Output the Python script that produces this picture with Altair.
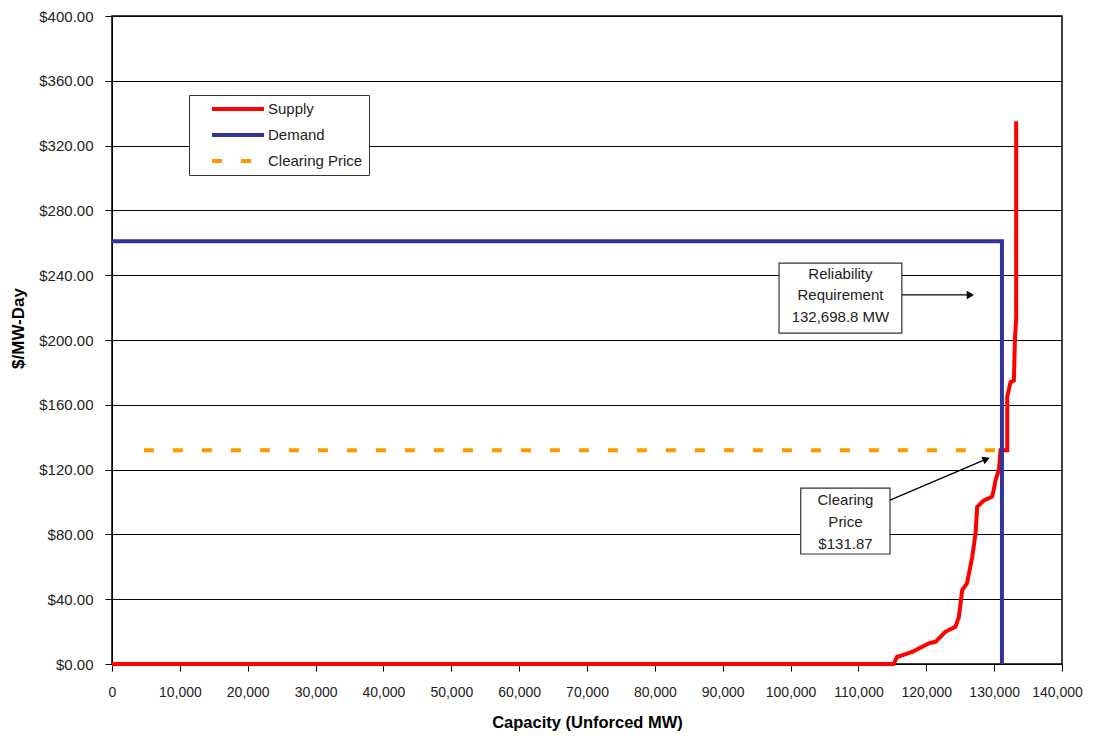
import altair as alt
import pandas as pd

# ---- data ----
supply_mw = [0, 115200, 115700, 116200, 118000, 120400, 121400, 122850, 124300, 124800,
             125300, 126000, 126770, 127260, 127500, 128500, 129700, 129970, 130210,
             130700, 130950, 131930, 131930, 132420, 132910, 133060, 133250, 133250]
supply_price = [0, 0, 4.5, 5, 7.6, 12.8, 13.8, 20, 23, 29,
                45.7, 49.8, 66, 80.7, 97, 101, 103.3, 108, 113.6,
                119.8, 132, 132, 165, 174, 175, 200, 214, 335]

demand_mw = [0, 131150, 131150]
demand_price = [261, 261, 0]

clearing_mw = [4700, 131000]
clearing_price = [131.87, 131.87]

series_names = ["Supply", "Demand", "Clearing Price"]
series_colors = ["#FF0000", "#333399", "#FF9900"]

x_ticks = list(range(0, 140001, 10000))
y_ticks = list(range(0, 401, 40))

# annotation boxes
box_x = [98300, 101500]
box_x2 = [116400, 114650]
box_y = [247.5, 108.6]
box_y2 = [204.3, 67.9]

note_x = [107350, 107350, 107350, 108090, 108090, 108090]
note_y = [240.7, 227.8, 214.2, 101.2, 87.7, 74.1]
note_text = ["Reliability", "Requirement", "132,698.8 MW", "Clearing", "Price", "$131.87"]

arrow_x = [116400, 114650]
arrow_y = [227.8, 101.2]
arrow_x2 = [126500, 128850]
arrow_y2 = [227.8, 126.5]
arrow_angle = [0, 337]

FONT = "Liberation Sans Narrow, Arial Narrow, Liberation Sans, Arial"
BOLD = "Liberation Sans, Arial"

rows = []
for i, (m, p) in enumerate(zip(supply_mw, supply_price)):
    rows.append({"series": "Supply", "mw": m, "price": p, "ord": i})
for i, (m, p) in enumerate(zip(demand_mw, demand_price)):
    rows.append({"series": "Demand", "mw": m, "price": p, "ord": i})
for i, (m, p) in enumerate(zip(clearing_mw, clearing_price)):
    rows.append({"series": "Clearing Price", "mw": m, "price": p, "ord": i})
df = pd.DataFrame(rows)

xs = alt.Scale(domain=[0, 140000], nice=False, zero=False)
ys = alt.Scale(domain=[0, 400], nice=False)

last_label_shift = {"condition": {"test": "datum.value == 140000", "value": -5}, "value": 0}

lines = alt.Chart(df).mark_line(strokeWidth=4).encode(
    x=alt.X("mw:Q", scale=xs, title="Capacity (Unforced MW)",
            axis=alt.Axis(values=x_ticks, format=",d", grid=False, tickSize=7,
                          labelPadding=14, labelFont=FONT, labelFontSize=14,
                          labelOffset=last_label_shift,
                          labelColor="#222", titleFont=BOLD, titleFontSize=16.5,
                          titleFontWeight="bold", titleY=58, titleBaseline="middle",
                          domainColor="black", tickColor="black", labelFlush=False)),
    y=alt.Y("price:Q", scale=ys, title="$/MW-Day",
            axis=alt.Axis(values=y_ticks, format="$.2f", grid=True, gridColor="#000",
                          gridWidth=1, tickSize=7, labelPadding=12, labelFont=FONT,
                          labelFontSize=15, labelColor="#222", titleFont=BOLD,
                          titleFontSize=17, titleFontWeight="bold", titleX=-94,
                          titleY=312, titleBaseline="middle", domainColor="black",
                          tickColor="black")),
    color=alt.Color("series:N", scale=alt.Scale(domain=series_names, range=series_colors),
                    legend=alt.Legend(title=None, orient="none", legendX=77, legendY=79,
                                      strokeColor="#333", fillColor="white", padding=6,
                                      symbolType="stroke", symbolStrokeWidth=4,
                                      symbolSize=2700, symbolOffset=15, clipHeight=16,
                                      labelFont=FONT, labelFontSize=15,
                                      labelColor="#222", labelOffset=2, rowPadding=10,
                                      labelExpr="datum.label == 'Clearing Price' ? datum.label + '      ' : datum.label")),
    strokeDash=alt.StrokeDash("series:N",
                              scale=alt.Scale(domain=series_names,
                                              range=[[1, 0], [1, 0], [10, 19]]),
                              legend=None),
    detail="series:N",
    order="ord:Q",
)

boxes_df = pd.DataFrame({"x": box_x, "x2": box_x2, "y": box_y, "y2": box_y2})
boxes = alt.Chart(boxes_df).mark_rect(fill="white", stroke="#333", strokeWidth=1.2).encode(
    x=alt.X("x:Q", scale=xs), x2="x2:Q", y=alt.Y("y:Q", scale=ys), y2="y2:Q")

notes_df = pd.DataFrame({"x": note_x, "y": note_y, "t": note_text})
notes = alt.Chart(notes_df).mark_text(font=FONT, fontSize=15, color="#222",
                                      align="center", baseline="middle").encode(
    x=alt.X("x:Q", scale=xs), y=alt.Y("y:Q", scale=ys), text="t:N")

arrows_df = pd.DataFrame({"x": arrow_x, "y": arrow_y, "x2": arrow_x2, "y2": arrow_y2,
                          "a": arrow_angle})
arrow_lines = alt.Chart(arrows_df).mark_rule(color="black", strokeWidth=1.3).encode(
    x=alt.X("x:Q", scale=xs), y=alt.Y("y:Q", scale=ys), x2="x2:Q", y2="y2:Q")
arrow_heads = alt.Chart(arrows_df).mark_point(shape="triangle-right", filled=True,
                                              color="black", size=70, opacity=1).encode(
    x=alt.X("x2:Q", scale=xs), y=alt.Y("y2:Q", scale=ys),
    angle=alt.Angle("a:Q", scale=None))

chart = alt.layer(lines, boxes, notes, arrow_lines, arrow_heads).properties(
    width=950, height=648,
    autosize=alt.AutoSizeParams(type="none"),
    padding={"left": 104, "top": 8, "right": 24, "bottom": 67},
    background="white",
).configure_view(stroke="black", strokeWidth=1.5)

chart.save("out.html", embed_options={"renderer": "svg", "actions": False})
